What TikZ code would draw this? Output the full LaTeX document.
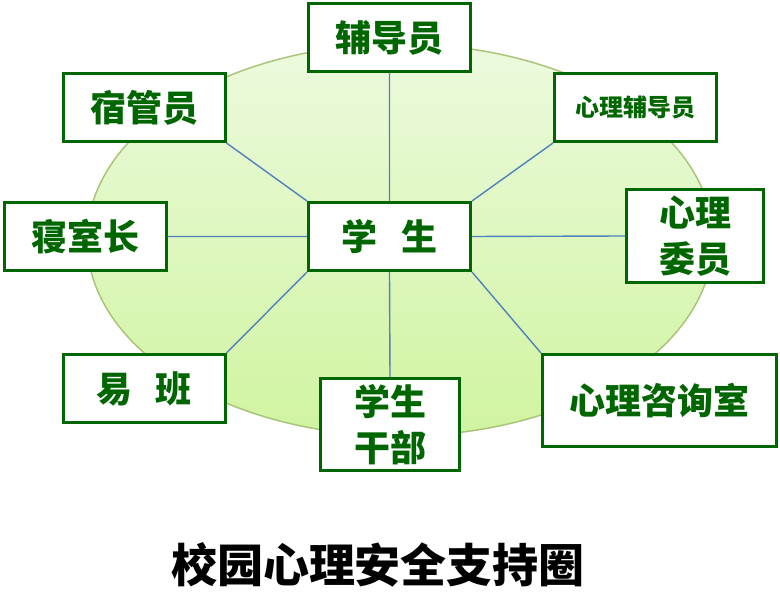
\documentclass[tikz,border=0pt]{standalone}
\usepackage{fontspec}
\newfontfamily\cjk{Noto Sans CJK SC}[BoldFont={* Black}]
\usepackage{tikz}
\usetikzlibrary{positioning,shapes,calc}

\definecolor{boxgreen}{RGB}{0,102,0}
\definecolor{ringedge}{RGB}{170,196,122}
\definecolor{ringtop}{RGB}{236,250,222}
\definecolor{ringbot}{RGB}{208,244,160}
\definecolor{linkblue}{RGB}{79,129,189}

\tikzset{
  member/.style={draw=boxgreen,line width=3pt,fill=white,shape=rectangle,
    minimum width=162pt,minimum height=68pt,inner sep=0pt,align=center,
    text=boxgreen,font=\cjk\bfseries\fontsize{36}{46}\selectfont},
  link/.style={draw=linkblue,line width=1.4pt}
}

\begin{document}
\begin{tikzpicture}[x=1pt,y=-1pt]
  \useasboundingbox (0,0) rectangle (780,601);
  % The support ring behind everything
  \path[top color=ringtop,bottom color=ringbot,draw=ringedge,line width=1.5pt]
    (400,240) ellipse [x radius=313pt,y radius=196pt];
  % The student in the middle and the people around
  \path (389.5,236.5) node[member] (XS) {学\hspace{24pt}生};
  \path (389.5,37.5) node[member] (FDY) {辅导员};
  \path (144,107.5) node[member] (SGY) {宿管员};
  \path (635.5,107.5) node[member,font=\cjk\bfseries\fontsize{24}{30}\selectfont] (XLFDY) {心理辅导员};
  \path (85,236.5) node[member] (QSZ) {寝室长};
  \path (695,236) node[member,minimum width=137pt,minimum height=93pt] (XLWY) {心理\\委员};
  \path (144,388.5) node[member] (YB) {易\hspace{24pt}班};
  \path (390,424.5) node[member,minimum width=139pt,minimum height=92pt] (XSGB) {学生\\干部};
  \path (659.5,400.5) node[member,minimum width=234pt,minimum height=92pt] (ZXS) {心理咨询室};
  % Draw the spokes
  \draw[link] (XS.north) -- (FDY.south) (XS.north west) -- (SGY.south east)
    (XS.north east) -- (XLFDY.south west) (XS.west) -- (QSZ.east)
    (XS.east) -- (XLWY.west) (XS.south west) -- (YB.north east)
    (XS.south) -- (XSGB.north) (XS.south east) -- (ZXS.north west);
  % Title
  \path (378,565) node[font=\cjk\bfseries\fontsize{46}{50}\selectfont] (title) {校园心理安全支持圈};
\end{tikzpicture}
\end{document}
